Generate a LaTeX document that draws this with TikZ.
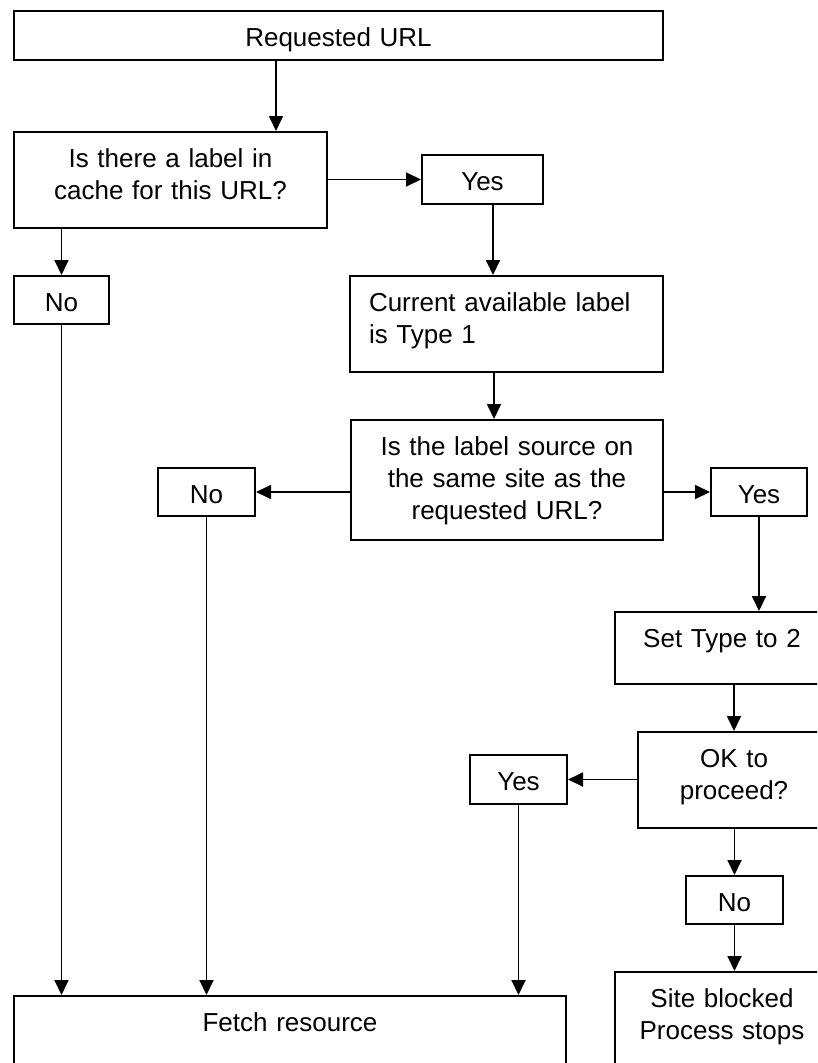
\documentclass[tikz,border=0pt]{standalone}
\usepackage{fontspec}
\setmainfont{Liberation Sans}
\usepackage{tikz}
\usetikzlibrary{arrows.meta}

\begin{document}
\begin{tikzpicture}[x=1pt,y=-1pt]
\tikzset{cell/.style={draw, line width=2pt, inner sep=0pt, anchor=north west,
  align=center, text height=35pt, text depth=13pt,
  font=\fontsize{26}{32}\selectfont}}
\tikzset{link/.style={line width=1.8pt, -{Triangle[length=15pt,width=14pt]}}}
\useasboundingbox (0,0) rectangle (817,1063);
\clip (0,0) rectangle (817,1063);
\node[cell, text width=649pt, text depth=14pt] (req) at (13,10) {Requested URL};
\node[cell, text width=313pt, text depth=61pt] (cache) at (13,131)
  {Is there a label in\\cache for this URL?};
\node[cell, text width=121pt, text depth=14pt] (yesA) at (421,154) {Yes};
\node[cell, text width=95pt] (noA) at (13,275) {No};
\node[cell, align=left, inner xsep=19pt, text width=275pt, text depth=61pt] (avail) at (349,275)
  {Current available label\\is Type 1};
\node[cell, text width=312pt, text depth=85pt] (same) at (350,419)
  {Is the label source on\\the same site as the\\requested URL?};
\node[cell, text width=97pt] (noB) at (157,467) {No};
\node[cell, text width=96pt] (yesB) at (710,467) {Yes};
\node[cell, text width=214pt, text depth=37pt] (settype) at (614,611) {Set Type to 2};
\node[cell, text width=192pt, text depth=61pt] (ok) at (637,731) {OK to\\proceed?};
\node[cell, text width=97pt, text depth=14pt] (yesC) at (469,754) {Yes};
\node[cell, text width=97pt] (noC) at (685,875) {No};
\node[cell, text width=214pt, text depth=120pt] (blocked) at (614,971)
  {Site blocked\\Process stops};
\node[cell, text width=552pt, text depth=120pt] (fetch) at (13,995) {Fetch resource};
\draw[link] (req.south -| 276,0) -- (cache.north -| 276,0);
\draw[link] (cache.east |- yesA) -- (yesA.west);
\draw[link] (yesA.south -| 493,0) -- (avail.north -| 493,0);
\draw[link] (cache.south -| noA) -- (noA.north);
\draw[link] (noA.south) -- (fetch.north -| noA);
\draw[link] (avail.south -| 494,0) -- (same.north -| 494,0);
\draw[link] (same.west |- noB) -- (noB.east);
\draw[link] (same.east |- yesB) -- (yesB.west);
\draw[link] (noB.south) -- (fetch.north -| noB);
\draw[link] (yesB.south) -- (settype.north -| yesB);
\draw[link] (settype.south -| ok.north) -- (ok.north);
\draw[link] (ok.west |- yesC) -- (yesC.east);
\draw[link] (yesC.south) -- (fetch.north -| yesC);
\draw[link] (ok.south -| noC) -- (noC.north);
\draw[link] (noC.south) -- (blocked.north -| noC);
\end{tikzpicture}
\end{document}
